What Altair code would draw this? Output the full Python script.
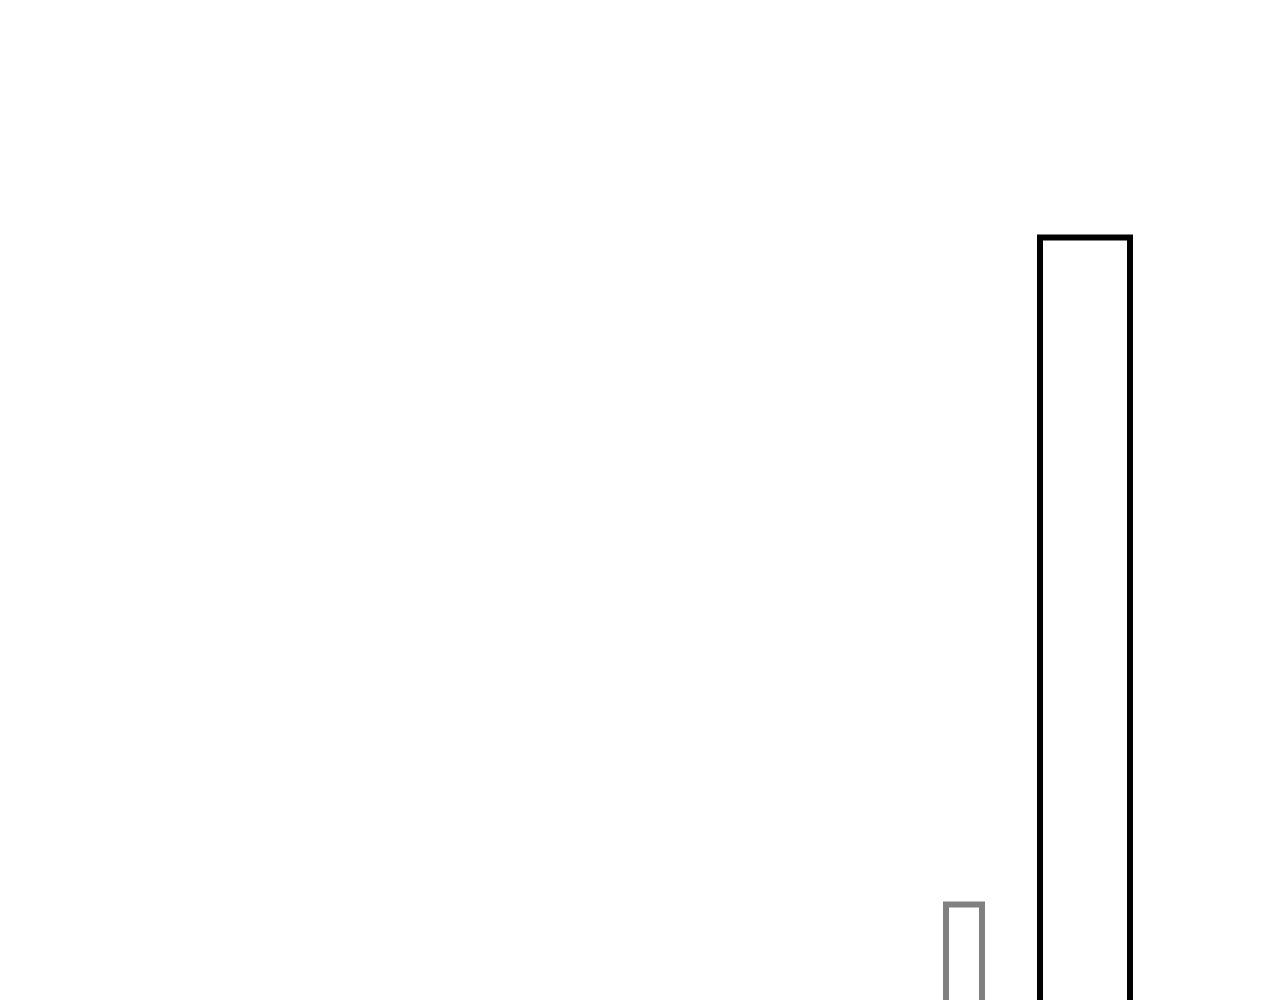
import altair as alt
import pandas as pd

# Data
labels = ["A", "B"]
x_start = [93.8, 103.2]
x_end = [97.4, 112.2]
values = [20.35, 87.05]
colors = ["#808080", "#000000"]

df = pd.DataFrame({"label": labels, "x0": x_start, "x1": x_end, "value": values, "color": colors})

chart = alt.Chart(df).mark_rect(filled=False, strokeWidth=6).encode(
    x=alt.X("x0:Q", axis=None, scale=alt.Scale(domain=[0, 126.4], nice=False, zero=False)),
    x2="x1:Q",
    y=alt.Y("value:Q", axis=None, scale=alt.Scale(domain=[0, 110], nice=False)),
    y2=alt.datum(0),
    stroke=alt.Color("color:N", scale=None),
).properties(
    width=1264, height=1100, padding=0
).configure_view(stroke=None)

chart.save("out.html", embed_options={"renderer": "svg", "actions": False})
